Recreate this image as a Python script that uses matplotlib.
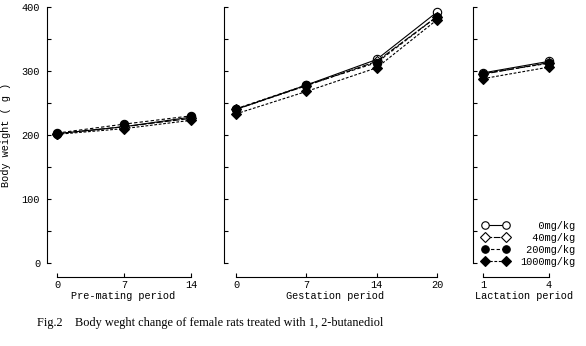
import matplotlib
matplotlib.use("Agg")
from matplotlib import pyplot as plt
from matplotlib.ticker import MultipleLocator

# days on each panel
pre_days = [0, 7, 14]
gest_days = [0, 7, 14, 20]
lact_days = [1, 4]

groups = ["0mg/kg", "40mg/kg", "200mg/kg", "1000mg/kg"]

# body weight (g)
pre_0 = [202, 213, 228]
pre_40 = [202, 213, 226]
pre_200 = [203, 217, 230]
pre_1000 = [201, 210, 223]

gest_0 = [240, 278, 318, 392]
gest_40 = [240, 277, 315, 385]
gest_200 = [241, 278, 313, 385]
gest_1000 = [233, 268, 305, 380]

lact_0 = [297, 315]
lact_40 = [295, 313]
lact_200 = [296, 312]
lact_1000 = [288, 306]

styles = [
    dict(marker="o", mfc="white", ls="-"),
    dict(marker="D", mfc="white", ls=(0, (6, 1.5))),
    dict(marker="o", mfc="black", ls=(0, (3, 2))),
    dict(marker="D", mfc="black", ls=(0, (2.5, 1.5))),
]

mono = "Liberation Mono"
fs = 7.4
W, H = 586, 346
fig = plt.figure(figsize=(W / 100, H / 100), dpi=100)


def make_ax(x0, x1, xlim):
    ax = fig.add_axes([x0 / W, (H - 263) / H, (x1 - x0) / W, (263 - 7) / H])
    ax.set_xlim(*xlim)
    ax.set_ylim(0, 400)
    for s in ["top", "right"]:
        ax.spines[s].set_visible(False)
    for s in ["left", "bottom"]:
        ax.spines[s].set_linewidth(0.8)
    ax.spines["bottom"].set_position(("outward", 10))
    ax.yaxis.set_major_locator(MultipleLocator(100))
    ax.yaxis.set_minor_locator(MultipleLocator(50))
    ax.tick_params(axis="y", which="both", direction="in", length=3, width=0.8)
    ax.tick_params(axis="x", direction="in", length=3, width=0.8, pad=2)
    ax.patch.set_alpha(0)
    return ax


ax1 = make_ax(47, 200, (-1.04, 14.9))
ax2 = make_ax(224, 447, (-1.19, 21.0))
ax3 = make_ax(473, 575, (0.545, 5.2))

panels = [
    (ax1, pre_days, [pre_0, pre_40, pre_200, pre_1000], "Pre-mating period"),
    (ax2, gest_days, [gest_0, gest_40, gest_200, gest_1000], "Gestation period"),
    (ax3, lact_days, [lact_0, lact_40, lact_200, lact_1000], "Lactation period"),
]

for ax, days, series, label in panels:
    for name, vals, st in zip(groups, series, styles):
        ms = 6 if st["marker"] == "o" else 5.5
        ax.plot(days, vals, color="black", lw=0.8, marker=st["marker"], ms=ms,
                mfc=st["mfc"], mec="black", mew=0.8, ls=st["ls"], label=name)
    ax.set_xticks(days)
    ax.spines["bottom"].set_bounds(days[0], days[-1])
    ax.set_xlabel(label, fontfamily=mono, fontsize=fs, labelpad=1)
    for t in ax.get_xticklabels():
        t.set_fontfamily(mono)
        t.set_fontsize(fs)
    if ax is ax1:
        for t in ax.get_yticklabels():
            t.set_fontfamily(mono)
            t.set_fontsize(fs)
        ax.tick_params(axis="y", pad=5)
    else:
        ax.set_yticklabels([])

ax1.set_ylabel("Body weight ( g )", fontfamily=mono, fontsize=fs, labelpad=8)

handles, _ = ax3.get_legend_handles_labels()
labels = ["   0mg/kg", "  40mg/kg", " 200mg/kg", "1000mg/kg"]
leg = fig.legend(handles, labels, loc="lower right",
                 bbox_to_anchor=(580 / W, (H - 272) / H),
                 frameon=False, numpoints=2, handlelength=2.7, handletextpad=1.0,
                 labelspacing=0.2, borderpad=0.0, markerscale=0.9,
                 prop={"family": mono, "size": fs})

fig.text(37 / W, (H - 323) / H,
         "Fig.2    Body weght change of female rats treated with 1, 2-butanediol",
         fontfamily="Liberation Serif", fontsize=8.8, va="center", ha="left")

plt.savefig("out.png", dpi=100)
